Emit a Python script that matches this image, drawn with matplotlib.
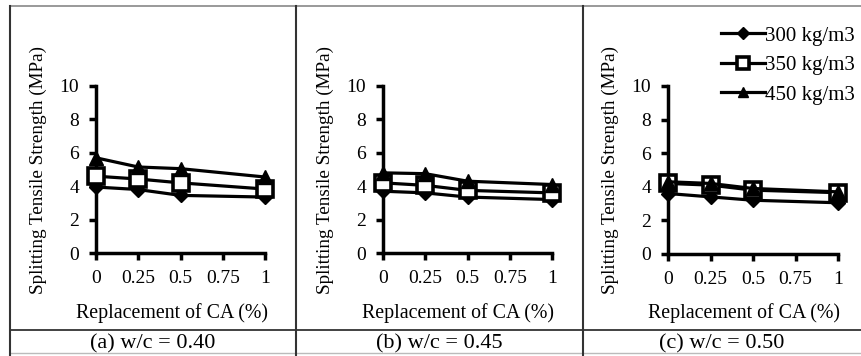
import matplotlib
matplotlib.use("Agg")
import matplotlib.pyplot as plt
from matplotlib.lines import Line2D

plt.rcParams['font.family'] = ['Liberation Serif', 'DejaVu Serif']

x_vals = [0, 0.25, 0.5, 1]
x_ticks = [0, 0.25, 0.5, 0.75, 1]
x_tick_labels = ['0', '0.25', '0.5', '0.75', '1']
y_ticks = [0, 2, 4, 6, 8, 10]
series_labels = ['300 kg/m3', '350 kg/m3', '450 kg/m3']
captions = ['(a) w/c = 0.40', '(b) w/c = 0.45', '(c) w/c = 0.50']

wc040_300 = [3.95, 3.8, 3.45, 3.35]
wc040_350 = [4.6, 4.43, 4.2, 3.83]
wc040_450 = [5.7, 5.15, 5.05, 4.55]

wc045_300 = [3.7, 3.6, 3.35, 3.2]
wc045_350 = [4.2, 4.05, 3.75, 3.6]
wc045_450 = [4.8, 4.75, 4.3, 4.1]

wc050_300 = [3.6, 3.4, 3.2, 3.05]
wc050_350 = [4.2, 4.1, 3.8, 3.65]
wc050_450 = [4.3, 4.2, 3.9, 3.7]

panels = [
    (wc040_300, wc040_350, wc040_450),
    (wc045_300, wc045_350, wc045_450),
    (wc050_300, wc050_350, wc050_450),
]

W, H = 861, 356
fig = plt.figure(figsize=(W / 100, H / 100), dpi=100)

def fx(px):
    return px / W

def fy(py):
    return 1 - py / H

axes_px = [(96, 265, 86, 253), (383, 552, 86, 253), (668, 838, 86, 254)]
styles = [
    dict(marker='D', markersize=7.5, markerfacecolor='black', markeredgecolor='black'),
    dict(marker='s', markersize=11, markerfacecolor='white', markeredgecolor='black', markeredgewidth=2.6),
    dict(marker='^', markersize=10, markerfacecolor='black', markeredgecolor='black'),
]

for i, (l, r, t, b) in enumerate(axes_px):
    ax = fig.add_axes([fx(l), fy(b), fx(r - l), (b - t) / H])
    for vals, st in zip(panels[i], styles):
        ax.plot(x_vals, vals, color='black', linewidth=2.3, clip_on=False, zorder=3, **st)
    ax.set_xlim(0, 1)
    ax.set_ylim(0, 10)
    ax.set_xticks(x_ticks)
    ax.set_xticklabels(x_tick_labels)
    ax.set_yticks(y_ticks)
    for s in ['top', 'right']:
        ax.spines[s].set_visible(False)
    for s in ['left', 'bottom']:
        ax.spines[s].set_linewidth(2.5)
    ax.tick_params(axis='both', direction='out', length=5, width=2.5, labelsize=14, colors='black')
    ax.tick_params(axis='y', pad=7)
    ax.tick_params(axis='x', pad=7)
    ax.set_facecolor('none')
    ax.set_ylabel('Splitting Tensile Strength (MPa)', fontsize=13.8)
    ax.yaxis.set_label_coords(-58 / (r - l), 0.5)
    ax.yaxis.label.set_va('center')
    ax.set_xlabel('Replacement of CA (%)', fontsize=14.3)
    ax.xaxis.set_label_coords(0.5 - 9 / (r - l), -(313 - b) / (b - t))
    ax.xaxis.label.set_va('center')

# legend
handles = [Line2D([0], [0], color='black', linewidth=2.3, **dict(st, markersize=st['markersize'] * 0.75)) for st in styles]
fig.legend(handles, series_labels, loc='upper left', bbox_to_anchor=(fx(721), fy(26)),
           frameon=False, fontsize=15, handlelength=2.1, handletextpad=0.02,
           labelspacing=0.48, borderaxespad=0, borderpad=0)

# captions
cells = [(10, 296), (296, 583), (583, 861)]
for (a, bb), cap in zip(cells, captions):
    fig.text(fx((a + bb) / 2), fy(344), cap, ha='center', va='center', fontsize=16)

# table borders
lc = '#333333'
fig.add_artist(Line2D([fx(10), 1], [fy(6), fy(6)], color='#888888', linewidth=1.2))
fig.add_artist(Line2D([fx(10), 1], [fy(330), fy(330)], color=lc, linewidth=1.3))
fig.add_artist(Line2D([fx(10), 1], [fy(353), fy(353)], color='#bbbbbb', linewidth=1.0))
for xp in [10, 296, 583]:
    fig.add_artist(Line2D([fx(xp), fx(xp)], [fy(6), fy(356)], color=lc, linewidth=1.5))

fig.savefig('out.png', dpi=100, facecolor='white')
